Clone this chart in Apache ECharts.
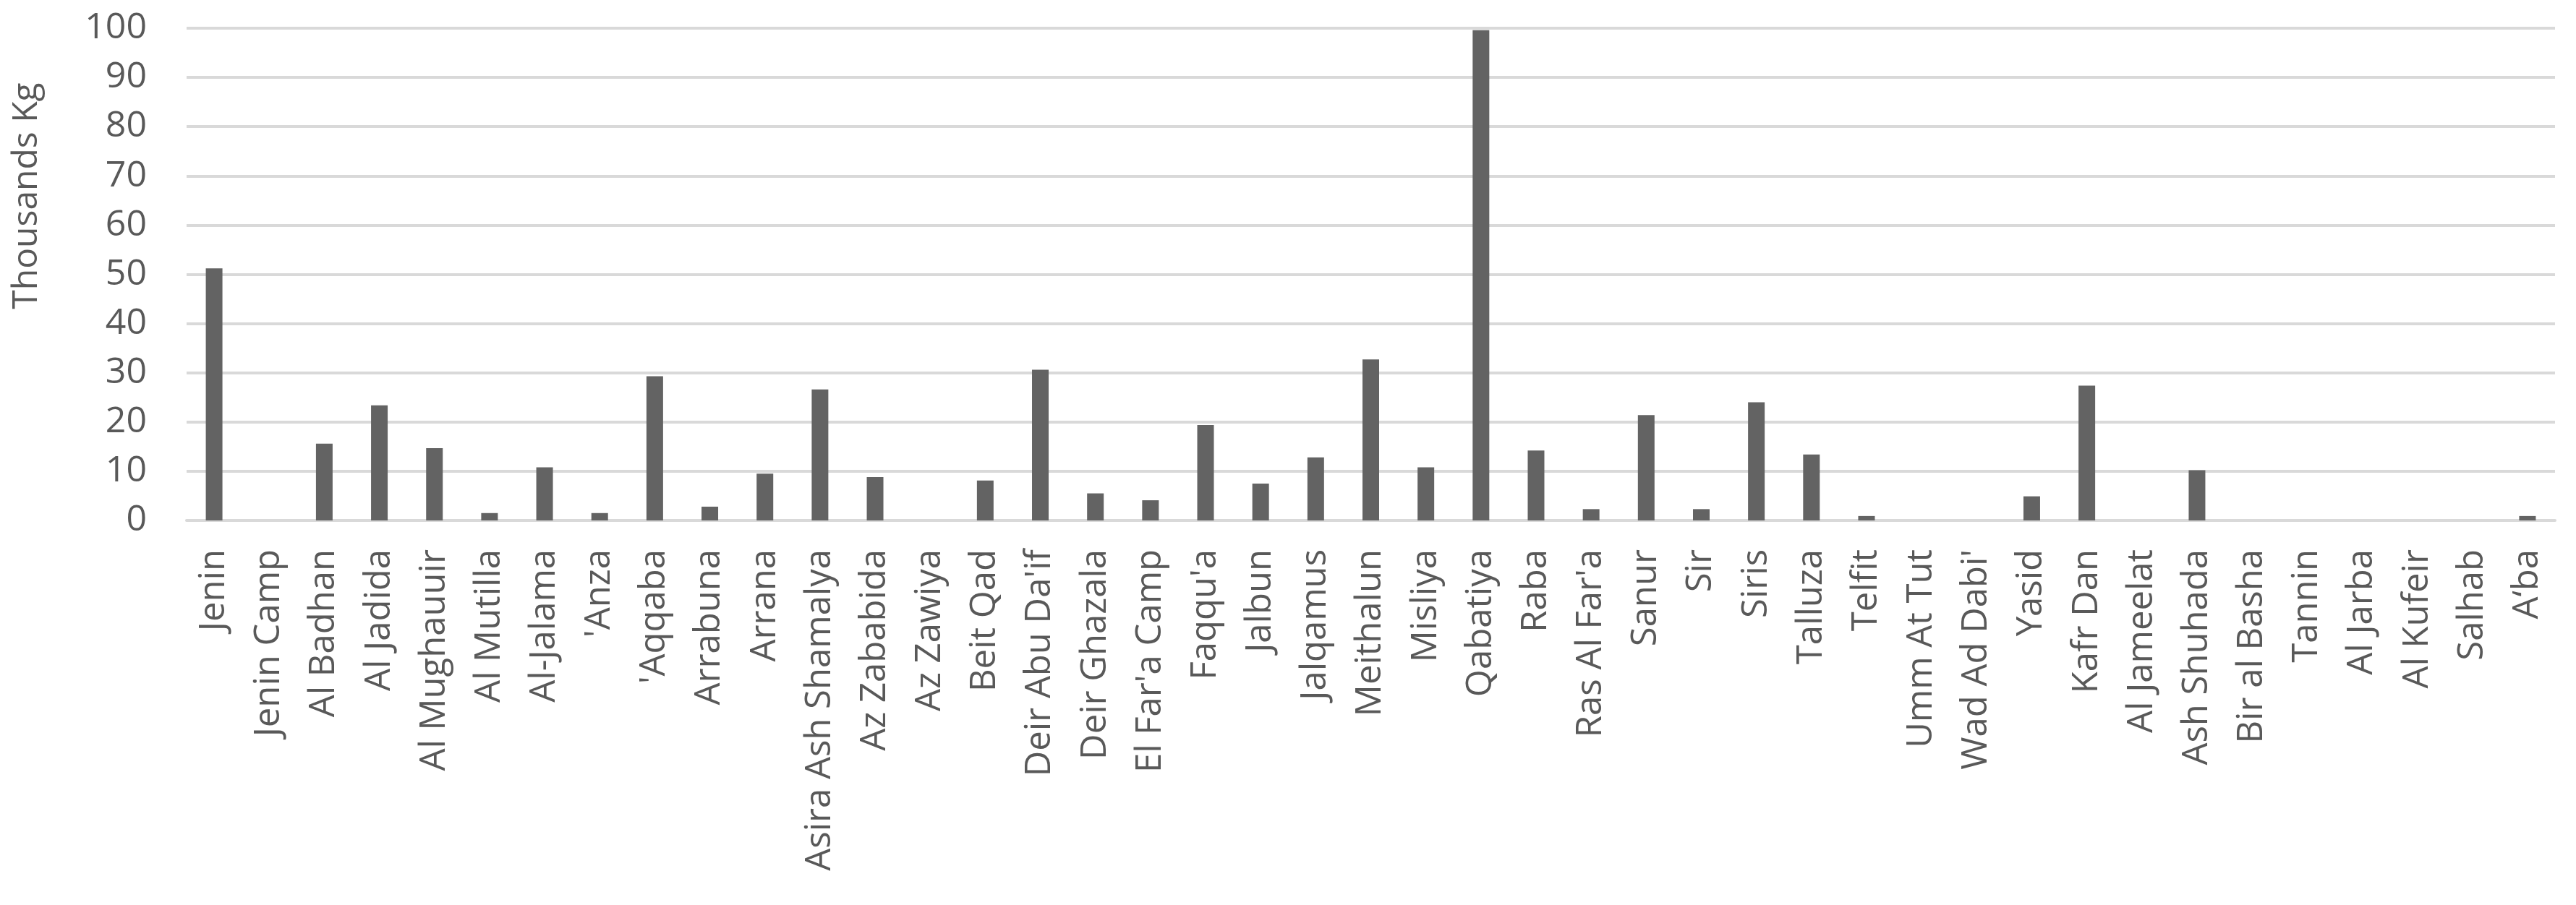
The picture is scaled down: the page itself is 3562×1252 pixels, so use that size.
<!DOCTYPE html>
<html>
<head>
    <meta charset="utf-8">
    <title>Thousands Kg by locality</title>
    <style>
        html, body { margin: 0; padding: 0; background: #ffffff; }
        #chart { width: 3562px; height: 1252px; }
    </style>
</head>
<body>
<div id="chart"></div>
<script src="https://cdn.jsdelivr.net/npm/echarts@6/dist/echarts.min.js"></script>
<script type="text/javascript">
    // localities (x axis)
    var places = ['Jenin', 'Jenin Camp', 'Al Badhan', 'Al Jadida', 'Al Mughauuir', 'Al Mutilla',
        'Al-Jalama', "'Anza", "'Aqqaba", 'Arrabuna', 'Arrana', 'Asira Ash Shamalya', 'Az Zababida',
        'Az Zawiya', 'Beit Qad', "Deir Abu Da'if", 'Deir Ghazala', "El Far'a Camp", "Faqqu'a",
        'Jalbun', 'Jalqamus', 'Meithalun', 'Misliya', 'Qabatiya', 'Raba', "Ras Al Far'a", 'Sanur',
        'Sir', 'Siris', 'Talluza', 'Telfit', 'Umm At Tut', "Wad Ad Dabi'", 'Yasid', 'Kafr Dan',
        'Al Jameelat', 'Ash Shuhada', 'Bir al Basha', 'Tannin', 'Al Jarba', 'Al Kufeir', 'Salhab', 'A‘ba'];

    // thousands of kg
    var thousandsKg = [51.2, 0, 15.6, 23.4, 14.7, 1.5,
        10.8, 1.5, 29.3, 2.8, 9.5, 26.6, 8.8,
        0, 8.1, 30.6, 5.5, 4.1, 19.4,
        7.5, 12.8, 32.7, 10.8, 99.6, 14.2, 2.3, 21.4,
        2.3, 24.0, 13.4, 0.9, 0, 0, 4.9, 27.4,
        0, 10.2, 0, 0, 0, 0, 0, 0.9];

    var yTicks = [0, 10, 20, 30, 40, 50, 60, 70, 80, 90, 100];
    var yTitle = 'Thousands Kg';

    var font = '"Open Sans", "Noto Sans", sans-serif';
    var myChart = echarts.init(document.getElementById('chart'));

    myChart.setOption({
        animation: false,
        backgroundColor: '#ffffff',
        grid: { left: 258, right: 29, top: 39, bottom: 532 },
        graphic: [{
            type: 'text',
            x: 37,
            y: 271,
            rotation: Math.PI / 2,
            style: {
                text: yTitle,
                fill: '#595959',
                font: '48px ' + font,
                textAlign: 'center',
                textVerticalAlign: 'middle'
            }
        }],
        xAxis: {
            type: 'category',
            data: places,
            axisLine: { lineStyle: { color: '#d9d9d9', width: 4 } },
            axisTick: { show: false },
            axisLabel: {
                interval: 0,
                rotate: 90,
                margin: 40,
                color: '#595959',
                fontFamily: font,
                fontSize: 49
            }
        },
        yAxis: {
            type: 'value',
            min: yTicks[0],
            max: yTicks[yTicks.length - 1],
            interval: 10,
            axisLine: { show: false },
            axisTick: { show: false },
            splitLine: { lineStyle: { color: '#d9d9d9', width: 4 } },
            axisLabel: {
                margin: 55,
                color: '#595959',
                fontFamily: font,
                fontSize: 50
            }
        },
        series: [{
            name: yTitle,
            type: 'bar',
            data: thousandsKg,
            barWidth: 23,
            itemStyle: { color: '#636363' }
        }]
    });
</script>
</body>
</html>
